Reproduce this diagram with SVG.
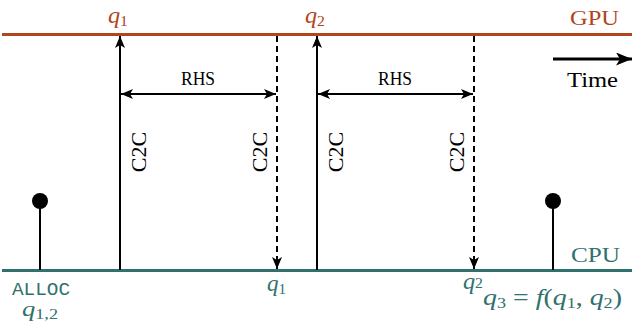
<svg xmlns="http://www.w3.org/2000/svg" width="640" height="331" viewBox="0 0 640 331">
<style>
.gpu{fill:#b0461e}
.cpu{fill:#2f716c}
.t{font-family:"Liberation Serif",serif}
.m{font-family:"Liberation Serif",serif;font-style:italic}
.tt{font-family:"Liberation Mono","Courier New",monospace}
.ln{stroke:#000;stroke-width:2;fill:none}
.dash{stroke-dasharray:6,4}
</style>
<defs>
<marker id="ah" viewBox="0 0 12 10" refX="12" refY="5" markerWidth="12" markerHeight="10" markerUnits="userSpaceOnUse" orient="auto-start-reverse">
<path d="M0,0 L12,5 L0,10 L3,5 Z" fill="#000"/>
</marker>
<marker id="ahb" viewBox="0 0 16 13" refX="16" refY="6.5" markerWidth="16" markerHeight="13" markerUnits="userSpaceOnUse" orient="auto">
<path d="M0,0 L16,6.5 L0,13 L4,6.5 Z" fill="#000"/>
</marker>
</defs>
<rect width="640" height="331" fill="#fff"/>
<g id="gpu-line">
<line x1="2" y1="34.5" x2="632" y2="34.5" stroke="#b0461e" stroke-width="3"/>
<text x="570" y="25" class="t gpu" font-size="20" textLength="49" lengthAdjust="spacingAndGlyphs">GPU</text>
</g>
<g id="cpu-line">
<line x1="2" y1="270.5" x2="632" y2="270.5" stroke="#2f716c" stroke-width="3"/>
<text x="571" y="262" class="t cpu" font-size="20" textLength="49" lengthAdjust="spacingAndGlyphs">CPU</text>
</g>
<g id="connectors">
<line x1="120" y1="270" x2="120" y2="36" class="ln" marker-end="url(#ah)"/>
<line x1="277" y1="36" x2="277" y2="269" class="ln dash" marker-end="url(#ah)"/>
<line x1="317" y1="270" x2="317" y2="36" class="ln" marker-end="url(#ah)"/>
<line x1="474" y1="36" x2="474" y2="269" class="ln dash" marker-end="url(#ah)"/>
<line x1="121" y1="94" x2="276" y2="94" class="ln" marker-start="url(#ah)" marker-end="url(#ah)"/>
<line x1="318" y1="94" x2="473" y2="94" class="ln" marker-start="url(#ah)" marker-end="url(#ah)"/>
<line x1="553" y1="59" x2="632" y2="59" stroke="#000" stroke-width="3" marker-end="url(#ahb)"/>
</g>
<g id="labels">
<text x="181" y="85" class="t" font-size="18" textLength="34" lengthAdjust="spacingAndGlyphs">RHS</text>
<text x="378" y="85" class="t" font-size="18" textLength="34" lengthAdjust="spacingAndGlyphs">RHS</text>
<text transform="translate(146,152) rotate(-90)" class="t" font-size="22" text-anchor="middle">C2C</text>
<text transform="translate(267,152) rotate(-90)" class="t" font-size="22" text-anchor="middle">C2C</text>
<text transform="translate(343,152) rotate(-90)" class="t" font-size="22" text-anchor="middle">C2C</text>
<text transform="translate(464,152) rotate(-90)" class="t" font-size="22" text-anchor="middle">C2C</text>
<text x="567" y="87" class="t" font-size="20" textLength="51" lengthAdjust="spacingAndGlyphs">Time</text>
</g>
<g id="q1-top"><text x="108" y="23" class="m gpu" font-size="23" textLength="20" lengthAdjust="spacingAndGlyphs">q<tspan font-size="15" font-style="normal" dy="3">1</tspan></text></g>
<g id="q2-top"><text x="305" y="23" class="m gpu" font-size="23" textLength="20" lengthAdjust="spacingAndGlyphs">q<tspan font-size="15" font-style="normal" dy="3">2</tspan></text></g>
<g id="alloc">
<line x1="40" y1="201" x2="40" y2="270" class="ln"/>
<circle cx="40" cy="201" r="8" fill="#000"/>
<text x="12" y="295" class="tt cpu" font-size="19" textLength="58" lengthAdjust="spacingAndGlyphs">ALLOC</text>
<text x="22" y="316" class="m cpu" font-size="22" textLength="36" lengthAdjust="spacingAndGlyphs">q<tspan font-size="15" font-style="normal" dy="3">1,2</tspan></text>
</g>
<g id="q1-bottom"><text x="267" y="291" class="m cpu" font-size="23" textLength="19" lengthAdjust="spacingAndGlyphs">q<tspan font-size="15" font-style="normal" dy="3">1</tspan></text></g>
<g id="q2-bottom"><text x="463" y="289" class="m cpu" font-size="23" textLength="20" lengthAdjust="spacingAndGlyphs">q<tspan font-size="15" font-style="normal" dy="-1">2</tspan></text></g>
<g id="result">
<line x1="553" y1="201" x2="553" y2="270" class="ln"/>
<circle cx="553" cy="201" r="8" fill="#000"/>
<text x="483" y="305" class="m cpu" font-size="23" textLength="139" lengthAdjust="spacingAndGlyphs">q<tspan font-size="15" font-style="normal" dy="3">3</tspan><tspan dy="-3" font-style="normal"> = </tspan>f<tspan font-style="normal">(</tspan>q<tspan font-size="15" font-style="normal" dy="3">1</tspan><tspan dy="-3" font-style="normal">, </tspan>q<tspan font-size="15" font-style="normal" dy="3">2</tspan><tspan dy="-3" font-style="normal">)</tspan></text>
</g>
</svg>
